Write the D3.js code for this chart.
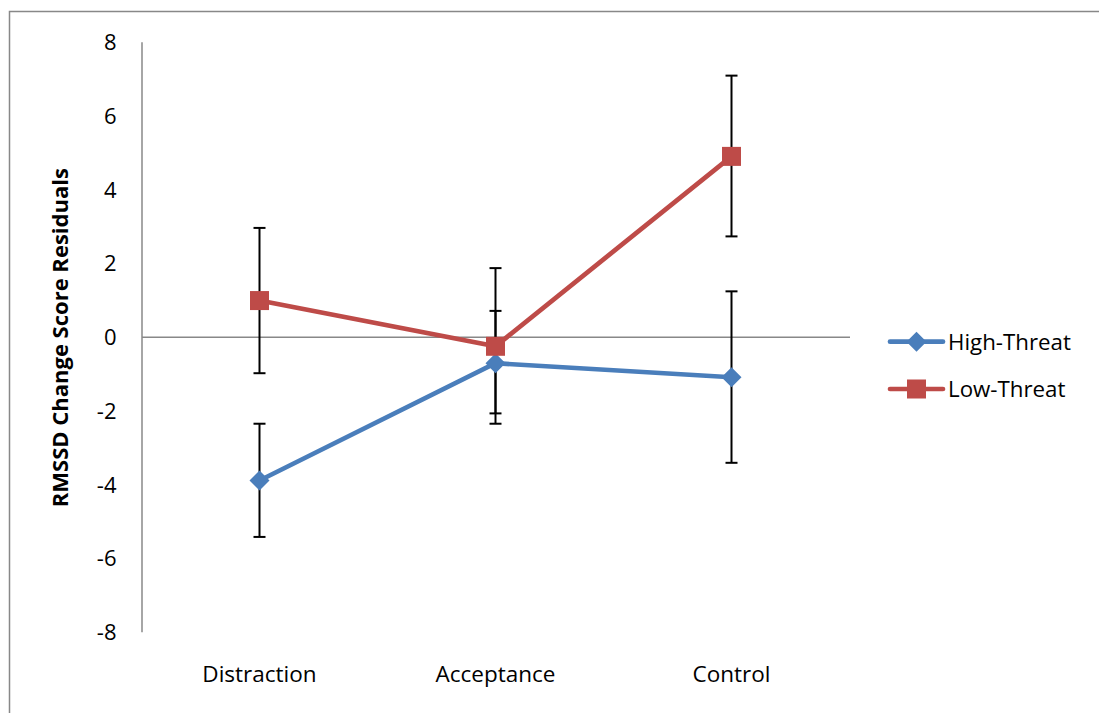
<!DOCTYPE html>
<html>
<head>
<meta charset="utf-8">
<script src="https://cdn.jsdelivr.net/npm/d3@7"></script>
<style>
  html, body { margin: 0; padding: 0; background: #fff; }
  svg { display: block; font-family: "Open Sans", Lato, sans-serif; }
</style>
</head>
<body>
<svg id="chart" width="1099" height="713"></svg>
<script>
// Conditions on the x axis
const categories = ["Distraction", "Acceptance", "Control"];

// Group means with their error bar extents (upper / lower)
const highThreat = [-3.90, -0.72, -1.10];
const highThreatUp = [1.54, 1.42, 2.33];
const highThreatDown = [1.53, 1.36, 2.32];

const lowThreat = [0.98, -0.26, 4.89];
const lowThreatUp = [1.97, 2.12, 2.19];
const lowThreatDown = [1.97, 2.10, 2.17];

const yTicks = [-8, -6, -4, -2, 0, 2, 4, 6, 8];
const seriesNames = ["High-Threat", "Low-Threat"];

const FONT = "'Open Sans', Lato, sans-serif";
const svg = d3.select("#chart");

// Outer chart frame
svg.append("rect")
  .attr("x", 9.5).attr("y", 11.5)
  .attr("width", 1200).attr("height", 800)
  .attr("fill", "none").attr("stroke", "#888").attr("stroke-width", 1.5);

const plot = { left: 141.5, right: 849.5, top: 41.7, bottom: 631.7 };

const x = d3.scaleBand().domain(categories).range([plot.left, plot.right]);
const y = d3.scaleLinear().domain([-8, 8]).range([plot.bottom, plot.top]);
const cx = c => x(c) + x.bandwidth() / 2;

// Y axis (no tick marks, labels only)
const yAxis = svg.append("g")
  .attr("transform", `translate(${plot.left},0)`)
  .call(d3.axisLeft(y).tickValues(yTicks).tickSize(0).tickPadding(25).tickFormat(d => String(d)));
yAxis.select(".domain").attr("stroke", "#888").attr("stroke-width", 1.5);
yAxis.selectAll("text").attr("font-size", 22).attr("fill", "#000")
  .attr("font-family", FONT).attr("dy", "0.36em");

// Horizontal zero line acting as the x axis
const xAxis = svg.append("g")
  .attr("transform", `translate(0,${y(0)})`)
  .call(d3.axisBottom(x).tickSize(0).tickFormat(""));
xAxis.select(".domain").attr("stroke", "#888").attr("stroke-width", 1.5);

// Category labels along the bottom
svg.append("g").selectAll("text")
  .data(categories).join("text")
  .attr("x", d => cx(d)).attr("y", 682)
  .attr("text-anchor", "middle").attr("font-size", 22.5).attr("fill", "#000")
  .text(d => d);

// Y axis title
svg.append("text")
  .attr("transform", `translate(68,${(plot.top + plot.bottom) / 2 + 1}) rotate(-90)`)
  .attr("text-anchor", "middle").attr("font-size", 22).attr("font-weight", "bold")
  .attr("fill", "#000")
  .text("RMSSD Change Score Residuals");

const series = [
  { name: seriesNames[0], values: highThreat, up: highThreatUp, down: highThreatDown, color: "#4a7ebb", shape: "diamond" },
  { name: seriesNames[1], values: lowThreat, up: lowThreatUp, down: lowThreatDown, color: "#be4b48", shape: "square" }
];

// Error bars
series.forEach(s => {
  const g = svg.append("g").attr("stroke", "#000").attr("stroke-width", 2);
  categories.forEach((c, i) => {
    const yt = y(s.values[i] + s.up[i]);
    const yb = y(s.values[i] - s.down[i]);
    g.append("line").attr("x1", cx(c)).attr("x2", cx(c)).attr("y1", yt).attr("y2", yb);
    g.append("line").attr("x1", cx(c) - 6).attr("x2", cx(c) + 6).attr("y1", yt).attr("y2", yt);
    g.append("line").attr("x1", cx(c) - 6).attr("x2", cx(c) + 6).attr("y1", yb).attr("y2", yb);
  });
});

const line = d3.line().x((d, i) => cx(categories[i])).y(d => y(d));

function marker(g, shape, px, py, color) {
  if (shape === "diamond") {
    const r = 10;
    g.append("path")
      .attr("d", `M${px},${py - r}L${px + r},${py}L${px},${py + r}L${px - r},${py}Z`)
      .attr("fill", color);
  } else {
    const h = 9.5;
    g.append("rect").attr("x", px - h).attr("y", py - h)
      .attr("width", 2 * h).attr("height", 2 * h).attr("fill", color);
  }
}

// Lines and markers
series.forEach(s => {
  svg.append("path").datum(s.values)
    .attr("d", line).attr("fill", "none")
    .attr("stroke", s.color).attr("stroke-width", 4.7).attr("stroke-linecap", "round");
  const g = svg.append("g");
  s.values.forEach((v, i) => marker(g, s.shape, cx(categories[i]), y(v), s.color));
});

// Legend
const legendY = [341.7, 389];
series.forEach((s, i) => {
  const g = svg.append("g");
  g.append("line").attr("x1", 890).attr("x2", 943).attr("y1", legendY[i]).attr("y2", legendY[i])
    .attr("stroke", s.color).attr("stroke-width", 4.7).attr("stroke-linecap", "round");
  marker(g, s.shape, 916.5, legendY[i], s.color);
  g.append("text").attr("x", 948).attr("y", legendY[i] + 8)
    .attr("font-size", 22.3).attr("fill", "#000").text(s.name);
});
</script>
</body>
</html>
